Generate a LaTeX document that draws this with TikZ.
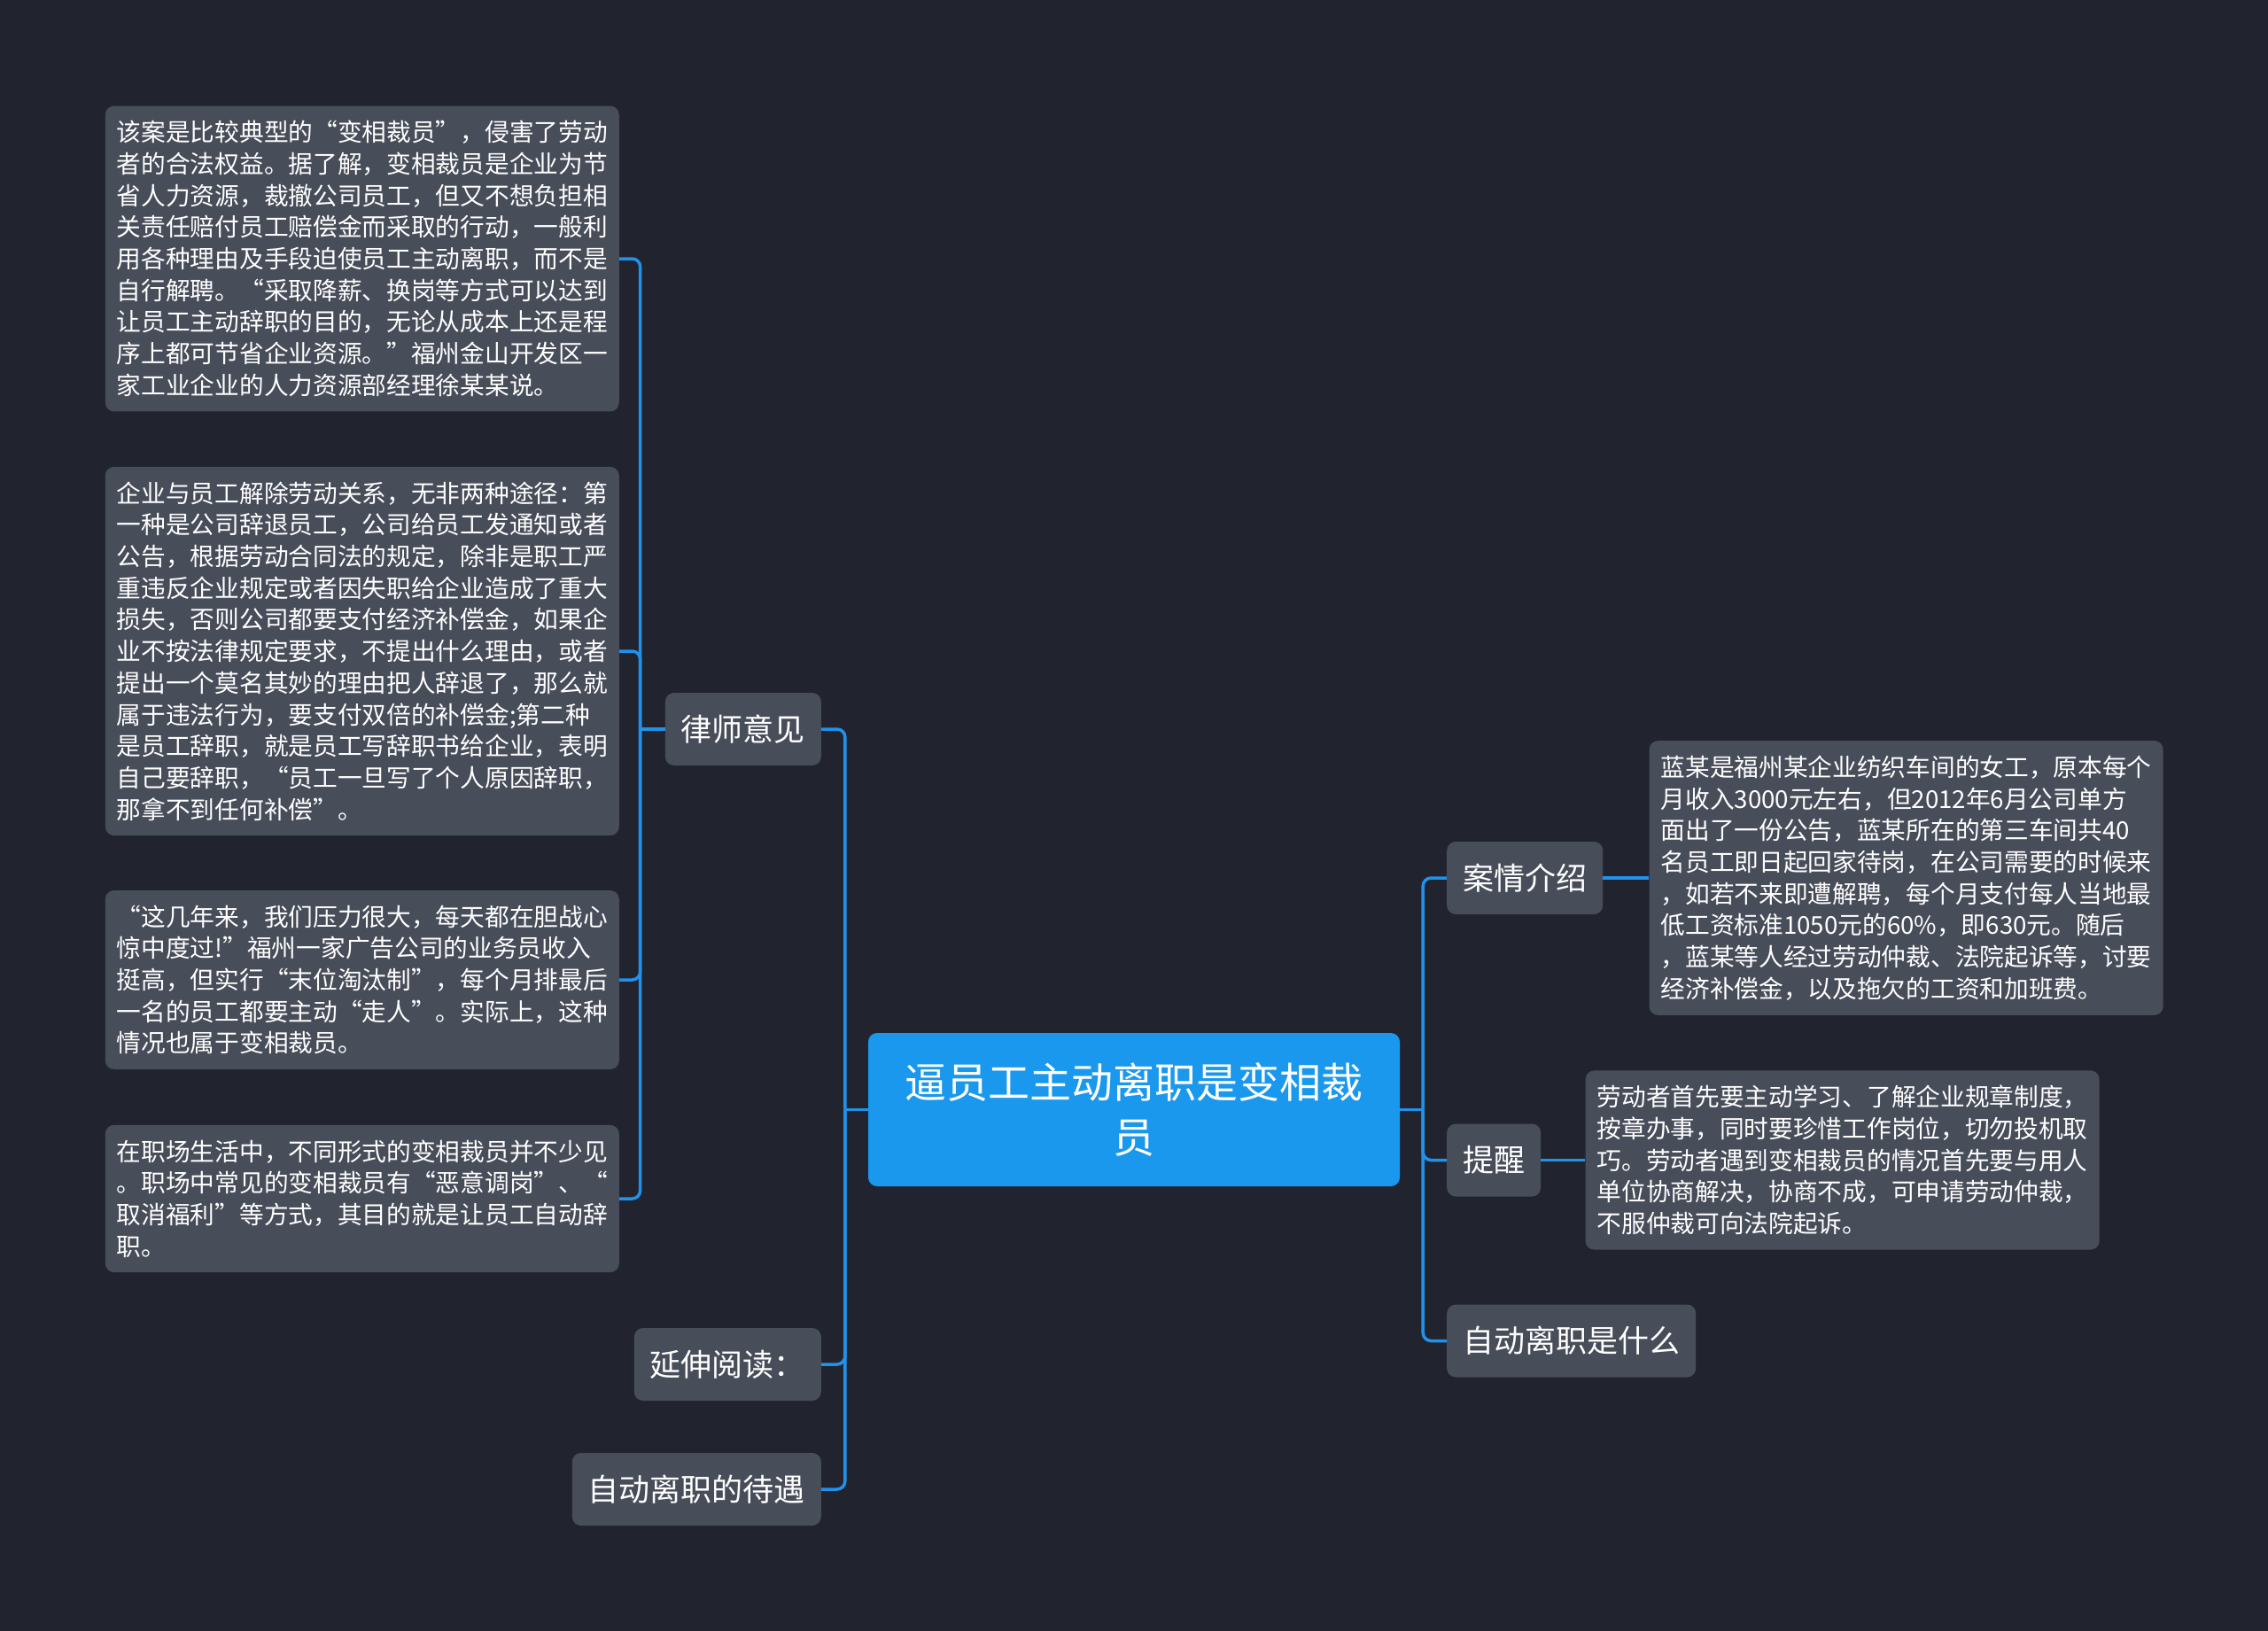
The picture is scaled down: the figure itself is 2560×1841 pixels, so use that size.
\documentclass[tikz,border=0pt]{standalone}
\usepackage{fontspec}
\setmainfont{Noto Sans CJK SC}
\usepackage{xcolor}
\usepackage{tikz}
\usetikzlibrary{positioning}

\definecolor{bgdark}{HTML}{21242F}
\definecolor{boxgray}{HTML}{484D5A}
\definecolor{rootblue}{HTML}{1A98EE}
\definecolor{linkblue}{HTML}{2191EA}

\newcommand{\leaffont}{\fontsize{27.7}{35.7}\selectfont}
\newcommand{\topicfont}{\fontsize{35}{42}\selectfont}
\newcommand{\rootfont}{\fontsize{47}{62}\selectfont}

\begin{document}
\begin{tikzpicture}[
    x=1pt, y=-1pt,
    leaf/.style={fill=boxgray, rounded corners=10pt, text=white, align=left,
      text width=554pt, inner xsep=13pt, inner ysep=16.7pt, font=\leaffont},
    topic/.style={fill=boxgray, rounded corners=10pt, text=white,
      minimum height=82pt, inner xsep=18pt, font=\topicfont},
    root/.style={fill=rootblue, rounded corners=10pt, text=white, align=center,
      text width=520pt, minimum width=600pt, minimum height=173pt, font=\rootfont},
    link/.style={draw=linkblue, line width=3.5pt, rounded corners=9pt}
  ]
    \fill[bgdark] (0,0) rectangle (2560,1841);
    \useasboundingbox (0,0) rectangle (2560,1841);

    \node[root] (root) at (1280,1252.5) {逼员工主动离职是变相裁\\员};

    % left side
    \node[topic, anchor=east] (lawyer) at (927,823) {律师意见};
    \node[topic, anchor=east] (further) at (927,1540) {延伸阅读：};
    \node[topic, anchor=east] (treat) at (927,1681) {自动离职的待遇};

    \node[leaf, anchor=east] (typical) at (699,292) {该案是比较典型的“变相裁员”，侵害了劳动\\者的合法权益。据了解，变相裁员是企业为节\\省人力资源，裁撤公司员工，但又不想负担相\\关责任赔付员工赔偿金而采取的行动，一般利\\用各种理由及手段迫使员工主动离职，而不是\\自行解聘。“采取降薪、换岗等方式可以达到\\让员工主动辞职的目的，无论从成本上还是程\\序上都可节省企业资源。”福州金山开发区一\\家工业企业的人力资源部经理徐某某说。};
    \node[leaf, anchor=east] (twoways) at (699,735) {企业与员工解除劳动关系，无非两种途径：第\\一种是公司辞退员工，公司给员工发通知或者\\公告，根据劳动合同法的规定，除非是职工严\\重违反企业规定或者因失职给企业造成了重大\\损失，否则公司都要支付经济补偿金，如果企\\业不按法律规定要求，不提出什么理由，或者\\提出一个莫名其妙的理由把人辞退了，那么就\\属于违法行为，要支付双倍的补偿金;第二种\\是员工辞职，就是员工写辞职书给企业，表明\\自己要辞职，“员工一旦写了个人原因辞职，\\那拿不到任何补偿”。};
    \node[leaf, anchor=east] (pressure) at (699,1106) {“这几年来，我们压力很大，每天都在胆战心\\惊中度过!”福州一家广告公司的业务员收入\\挺高，但实行“末位淘汰制”，每个月排最后\\一名的员工都要主动“走人”。实际上，这种\\情况也属于变相裁员。};
    \node[leaf, anchor=east] (forms) at (699,1353) {在职场生活中，不同形式的变相裁员并不少见\\。职场中常见的变相裁员有“恶意调岗”、“\\取消福利”等方式，其目的就是让员工自动辞\\职。};

    % right side
    \node[topic, anchor=west] (case) at (1633,991) {案情介绍};
    \node[topic, anchor=west] (remind) at (1633,1309.5) {提醒};
    \node[topic, anchor=west] (whatis) at (1633,1513.5) {自动离职是什么};

    \node[leaf, right=52pt of case] (casetext) {蓝某是福州某企业纺织车间的女工，原本每个\\月收入3000元左右，但2012年6月公司单方\\面出了一份公告，蓝某所在的第三车间共40\\名员工即日起回家待岗，在公司需要的时候来\\，如若不来即遭解聘，每个月支付每人当地最\\低工资标准1050元的60\%，即630元。随后\\，蓝某等人经过劳动仲裁、法院起诉等，讨要\\经济补偿金，以及拖欠的工资和加班费。};
    \node[leaf, right=50pt of remind] (remindtext) {劳动者首先要主动学习、了解企业规章制度，\\按章办事，同时要珍惜工作岗位，切勿投机取\\巧。劳动者遇到变相裁员的情况首先要与用人\\单位协商解决，协商不成，可申请劳动仲裁，\\不服仲裁可向法院起诉。};

    \coordinate (ljoin) at ([xshift=-26pt]root.west);
    \coordinate (rjoin) at ([xshift=26pt]root.east);
    \coordinate (ljoin2) at ([xshift=-28pt]lawyer.west);

    \draw[link] (root.west) -- (ljoin);
    \draw[link] (ljoin) |- (lawyer.east);
    \draw[link] (ljoin) |- (further.east);
    \draw[link] (ljoin) |- (treat.east);

    \draw[link] (lawyer.west) -- (ljoin2);
    \draw[link] (ljoin2) |- (typical.east);
    \draw[link] (ljoin2) |- (twoways.east);
    \draw[link] (ljoin2) |- (pressure.east);
    \draw[link] (ljoin2) |- (forms.east);

    \draw[link] (root.east) -- (rjoin);
    \draw[link] (rjoin) |- (case.west);
    \draw[link] (rjoin) |- (remind.west);
    \draw[link] (rjoin) |- (whatis.west);

    \draw[link] (case.east) -- (casetext.west);
    \draw[link] (remind.east) -- (remindtext.west);
  \end{tikzpicture}
\end{document}
